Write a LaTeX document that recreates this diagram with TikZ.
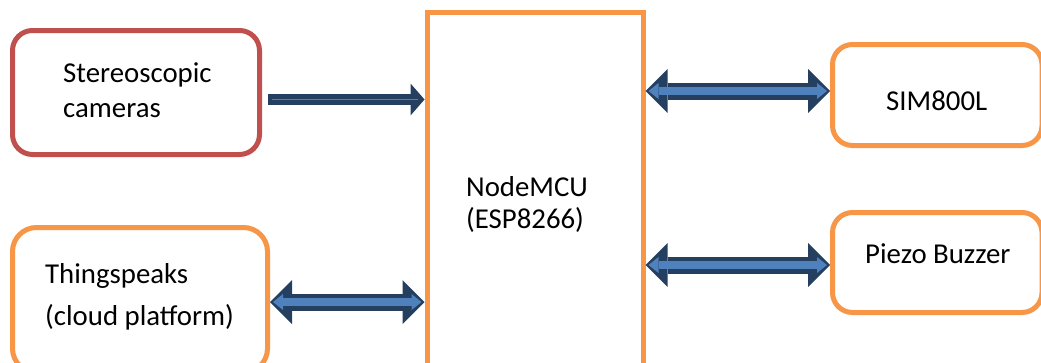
\documentclass[tikz,border=0pt]{standalone}
\usepackage{fontspec}
\setmainfont{Carlito}
\usepackage{tikz}
\usetikzlibrary{arrows.meta,calc}
\definecolor{boxred}{HTML}{C0504D}
\definecolor{boxorange}{HTML}{F79646}
\definecolor{busdark}{HTML}{243F60}
\definecolor{buslight}{HTML}{4F81BD}
\tikzset{
  blockbox/.style={draw=boxorange, line width=5pt, inner sep=0pt,
    rounded corners=20pt, fill=white},
  lbl/.style={inner sep=0pt, anchor=base west,
    font=\fontsize{28.8}{32}\selectfont},
  bus/.style={draw=buslight, line width=8pt,
    {Triangle[length=10pt,width=16pt,line width=0pt]}-{Triangle[length=10pt,width=16pt,line width=0pt]},
    shorten <=3pt, shorten >=3pt,
    preaction={draw=busdark, line width=17pt, shorten <=0pt, shorten >=0pt,
      {Triangle[length=22pt,width=44pt,line width=0pt]}-{Triangle[length=22pt,width=44pt,line width=0pt]}}},
  feed/.style={draw=busdark, line width=11pt, shorten <=5.5pt,
    -{Triangle[length=14pt,width=32pt,line width=0pt]}},
  feedline/.style={draw=buslight, line width=1.2pt, shorten <=10pt, shorten >=7pt}
}

\begin{document}
\begin{tikzpicture}[x=1pt,y=-1pt]
        \useasboundingbox (0,0) rectangle (1041,362);
        \clip (0,0) rectangle (1041,362);
        % Blocks
        \node[blockbox, draw=boxred, minimum width=247pt, minimum height=124pt]
          (cam) at (136,92.5) {};
        \node[blockbox, rounded corners=24pt, minimum width=255pt, minimum height=145pt]
          (cloud) at (140,300) {};
        \node[blockbox, rounded corners=0pt, minimum width=216pt, minimum height=368pt]
          (mcu) at (535,196.5) {};
        \node[blockbox, minimum width=209.5pt, minimum height=101pt]
          (sim) at (937.25,95) {};
        \node[blockbox, minimum width=209.5pt, minimum height=100pt]
          (buzz) at (937.25,262.5) {};
        % Labels
        \node[lbl] (camtxt) at (63,82) {Stereoscopic};
        \node[lbl] (camtxtb) at (63,117) {cameras};
        \node[lbl] (cloudtxt) at (45,283) {Thingspeaks};
        \node[lbl] (cloudtxtb) at (45,325) {(cloud platform)};
        \node[lbl] (mcutxt) at (466,196) {NodeMCU};
        \node[lbl] (mcutxtb) at (466,228) {(ESP8266)};
        \node[lbl] (simtxt) at (886,110) {SIM800L};
        \node[lbl] (buzztxt) at (865,263) {Piezo Buzzer};
        % Connectors
        \coordinate (c1) at ([yshift=-7pt]cam.east);
        \draw[feed] (c1) -- (c1 -| mcu.west);
        \draw[feedline] (c1) -- (c1 -| mcu.west);
        \coordinate (s1) at ([yshift=4pt]sim.west);
        \draw[bus] (s1 -| mcu.east) -- (s1);
        \coordinate (b1) at ([yshift=-2.5pt]buzz.west);
        \draw[bus] (b1 -| mcu.east) -- (b1);
        \coordinate (t1) at ([yshift=-2pt]cloud.east);
        \draw[bus] (t1) -- (t1 -| mcu.west);
\end{tikzpicture}
\end{document}
